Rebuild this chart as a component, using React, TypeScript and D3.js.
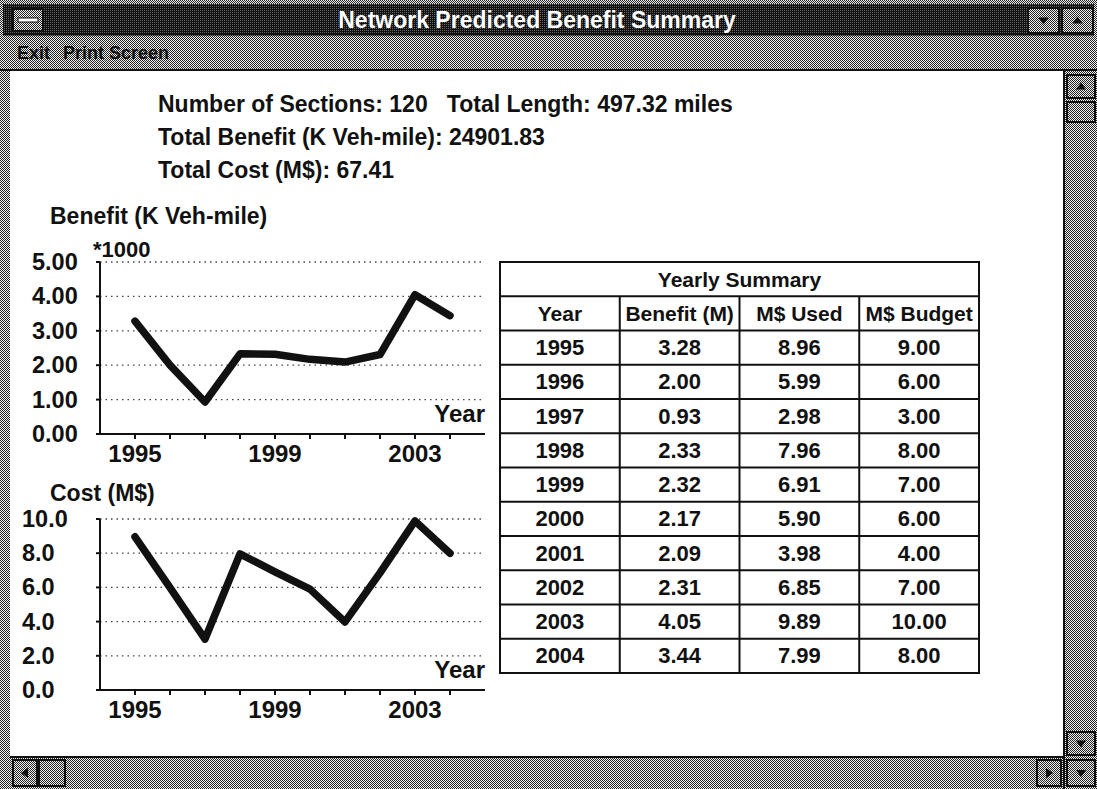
import React from "react";
import * as d3 from "d3";

// chart data
const years = [1995, 1996, 1997, 1998, 1999, 2000, 2001, 2002, 2003, 2004];
const benefitM = [3.28, 2.0, 0.93, 2.33, 2.32, 2.17, 2.09, 2.31, 4.05, 3.44];
const msUsed = [8.96, 5.99, 2.98, 7.96, 6.91, 5.9, 3.98, 6.85, 9.89, 7.99];
const msBudget = [9.0, 6.0, 3.0, 8.0, 7.0, 6.0, 4.0, 7.0, 10.0, 8.0];

const benefitTicks = [0, 1, 2, 3, 4, 5];
const costTicks = [0, 2, 4, 6, 8, 10];
const yearLabels = [1995, 1999, 2003];
const tableColumns = ["Year", "Benefit (M)", "M$ Used", "M$ Budget"];

const headerLines = [
  "Number of Sections: 120   Total Length: 497.32 miles",
  "Total Benefit (K Veh-mile): 24901.83",
  "Total Cost (M$): 67.41",
];

const W = 1097;
const H = 789;
const FONT = "'Liberation Sans', Arial, sans-serif";

interface Pt {
  year: number;
  value: number;
}

function LineChart({
  title,
  titleY,
  values,
  ticks,
  fmt,
  top,
  bottom,
  labelX,
  multiplier,
}: {
  title: string;
  titleY: number;
  values: number[];
  ticks: number[];
  fmt: (n: number) => string;
  top: number;
  bottom: number;
  labelX: number;
  multiplier?: string;
}) {
  const x = d3.scaleLinear().domain([1994, 2005]).range([100, 485]);
  const y = d3
    .scaleLinear()
    .domain([0, d3.max(ticks) as number])
    .range([bottom, top]);
  const data: Pt[] = years.map((yr, i) => ({ year: yr, value: values[i] }));
  const line = d3
    .line<Pt>()
    .x((d) => x(d.year))
    .y((d) => y(d.value));

  return (
    <g fontFamily={FONT} fontWeight="bold" fill="#111">
      <text x={50} y={titleY} fontSize={23} dominantBaseline="central">
        {title}
      </text>
      {multiplier && (
        <text x={93} y={top - 13} fontSize={22} dominantBaseline="central">
          {multiplier}
        </text>
      )}
      {/* dotted grid */}
      {ticks
        .filter((t) => t > 0)
        .map((t) => (
          <line
            key={"g" + t}
            x1={x.range()[0]}
            x2={x.range()[1]}
            y1={y(t)}
            y2={y(t)}
            stroke="#444"
            strokeWidth={1.3}
            strokeDasharray="1.5 4"
          />
        ))}
      {ticks.map((t) => (
        <g key={"y" + t}>
          <line x1={96} x2={100} y1={y(t)} y2={y(t)} stroke="#111" strokeWidth={2} />
          <text x={labelX} y={y(t)} fontSize={23.5} dominantBaseline="central">
            {fmt(t)}
          </text>
        </g>
      ))}
      {/* axes */}
      <line x1={100} x2={100} y1={y.range()[1]} y2={y.range()[0]} stroke="#111" strokeWidth={2} />
      <line x1={98} x2={485} y1={y.range()[0]} y2={y.range()[0]} stroke="#111" strokeWidth={2} />
      {years.map((yr) => (
        <line
          key={"t" + yr}
          x1={x(yr)}
          x2={x(yr)}
          y1={bottom}
          y2={bottom + 5}
          stroke="#111"
          strokeWidth={2}
        />
      ))}
      {yearLabels.map((yr) => (
        <text
          key={"l" + yr}
          x={x(yr)}
          y={bottom + 19}
          fontSize={24}
          textAnchor="middle"
          dominantBaseline="central"
        >
          {yr}
        </text>
      ))}
      <text x={485} y={bottom - 21} fontSize={24} textAnchor="end" dominantBaseline="central">
        Year
      </text>
      <path
        d={line(data) ?? ""}
        fill="none"
        stroke="#111"
        strokeWidth={7.5}
        strokeLinejoin="round"
        strokeLinecap="round"
      />
    </g>
  );
}

function SummaryTable() {
  const colX = d3.scaleLinear().domain([0, 4]).range([500, 979]);
  const rowY = d3.scaleLinear().domain([0, 12]).range([262, 673]);
  const rows = years.map((yr, i) => [
    String(yr),
    benefitM[i].toFixed(2),
    msUsed[i].toFixed(2),
    msBudget[i].toFixed(2),
  ]);
  const mid = (r: number) => (rowY(r) + rowY(r + 1)) / 2;

  return (
    <g fontFamily={FONT} fontWeight="bold" fill="#111">
      <rect x={500} y={262} width={479} height={411} fill="#fff" stroke="#111" strokeWidth={2} />
      {d3.range(1, 12).map((r) => (
        <line key={"h" + r} x1={500} x2={979} y1={rowY(r)} y2={rowY(r)} stroke="#111" strokeWidth={2} />
      ))}
      {d3.range(1, 4).map((c) => (
        <line key={"v" + c} x1={colX(c)} x2={colX(c)} y1={rowY(1)} y2={rowY(12)} stroke="#111" strokeWidth={2} />
      ))}
      <text x={(500 + 979) / 2} y={mid(0)} fontSize={21} textAnchor="middle" dominantBaseline="central">
        Yearly Summary
      </text>
      {tableColumns.map((c, i) => (
        <text
          key={c}
          x={(colX(i) + colX(i + 1)) / 2}
          y={mid(1)}
          fontSize={21}
          textAnchor="middle"
          dominantBaseline="central"
        >
          {c}
        </text>
      ))}
      {rows.map((row, r) =>
        row.map((cell, c) => (
          <text
            key={r + "-" + c}
            x={(colX(c) + colX(c + 1)) / 2}
            y={mid(r + 2)}
            fontSize={22}
            textAnchor="middle"
            dominantBaseline="central"
          >
            {cell}
          </text>
        ))
      )}
    </g>
  );
}

function ArrowBox({ x, y, w, h, dir }: { x: number; y: number; w: number; h: number; dir: string }) {
  const cx = x + w / 2;
  const cy = y + h / 2;
  const s = 5;
  let pts = "";
  if (dir === "up") pts = `${cx - s},${cy + 3} ${cx + s},${cy + 3} ${cx},${cy - 4}`;
  if (dir === "down") pts = `${cx - s},${cy - 3} ${cx + s},${cy - 3} ${cx},${cy + 4}`;
  if (dir === "left") pts = `${cx + 3},${cy - s} ${cx + 3},${cy + s} ${cx - 4},${cy}`;
  if (dir === "right") pts = `${cx - 3},${cy - s} ${cx - 3},${cy + s} ${cx + 4},${cy}`;
  return (
    <g>
      <rect x={x} y={y} width={w} height={h} fill="url(#dither)" stroke="#111" strokeWidth={2} />
      {pts && <polygon points={pts} fill="#111" />}
    </g>
  );
}

export default function App() {
  const titleBottom = 34;
  const menuBottom = 70;
  const sbLeft = 1064;
  const sbTop = 757;

  return (
    <svg
      width={W}
      height={H}
      style={{ position: "fixed", left: 0, top: 0, background: "#fff" }}
    >
      <defs>
        <pattern id="dither" width={2} height={2} patternUnits="userSpaceOnUse">
          <rect width={2} height={2} fill="#f2f2f2" />
          <rect width={1} height={1} fill="#222" />
          <rect x={1} y={1} width={1} height={1} fill="#222" />
        </pattern>
        <pattern id="darkDither" width={2} height={2} patternUnits="userSpaceOnUse">
          <rect width={2} height={2} fill="#111" />
          <rect width={1} height={1} fill="#666" />
        </pattern>
      </defs>

      {/* window frame */}
      <rect x={0} y={0} width={W} height={H} fill="url(#dither)" />
      <rect x={10} y={menuBottom} width={sbLeft - 10} height={sbTop - menuBottom} fill="#fff" />

      {/* title bar */}
      <rect x={3} y={4} width={W - 6} height={titleBottom - 4} fill="url(#darkDither)" />
      <rect x={13} y={9} width={30} height={22} fill="url(#dither)" stroke="#111" strokeWidth={2} />
      <rect x={18} y={18} width={20} height={4} fill="#fff" stroke="#111" strokeWidth={1} />
      <text
        x={537}
        y={20}
        fill="#fff"
        fontFamily={FONT}
        fontWeight="bold"
        fontSize={23}
        textAnchor="middle"
        dominantBaseline="central"
      >
        Network Predicted Benefit Summary
      </text>
      <ArrowBox x={1028} y={8} w={31} h={25} dir="down" />
      <ArrowBox x={1062} y={8} w={31} h={25} dir="up" />

      {/* menu bar */}
      <rect x={3} y={titleBottom} width={W - 6} height={1.5} fill="#111" />
      <g fontFamily={FONT} fontWeight="bold" fontSize={18} fill="#111">
        <text x={17} y={53} dominantBaseline="central">
          Exit
        </text>
        <text x={63} y={53} dominantBaseline="central">
          Print Screen
        </text>
      </g>
      <line x1={0} x2={W} y1={menuBottom} y2={menuBottom} stroke="#111" strokeWidth={2} />

      {/* scrollbars */}
      <line x1={sbLeft} x2={sbLeft} y1={menuBottom} y2={H} stroke="#111" strokeWidth={2} />
      <line x1={10} x2={sbLeft} y1={sbTop} y2={sbTop} stroke="#111" strokeWidth={2} />
      <ArrowBox x={sbLeft + 3} y={menuBottom + 5} w={28} h={23} dir="up" />
      <ArrowBox x={sbLeft + 3} y={menuBottom + 32} w={28} h={20} dir="" />
      <ArrowBox x={sbLeft + 3} y={sbTop - 25} w={28} h={23} dir="down" />
      <ArrowBox x={13} y={sbTop + 3} w={24} h={26} dir="left" />
      <ArrowBox x={39} y={sbTop + 3} w={26} h={26} dir="" />
      <ArrowBox x={sbLeft - 27} y={sbTop + 3} w={24} h={26} dir="right" />
      <ArrowBox x={sbLeft + 3} y={sbTop + 3} w={28} h={26} dir="down" />

      {/* header */}
      <g fontFamily={FONT} fontWeight="bold" fontSize={23} fill="#111">
        {headerLines.map((t, i) => (
          <text key={i} x={158} y={104 + i * 33} dominantBaseline="central" xmlSpace="preserve">
            {t}
          </text>
        ))}
      </g>

      <LineChart
        title="Benefit (K Veh-mile)"
        titleY={216}
        values={benefitM}
        ticks={benefitTicks}
        fmt={(n) => n.toFixed(2)}
        top={262}
        bottom={434}
        labelX={32}
        multiplier="*1000"
      />
      <LineChart
        title="Cost (M$)"
        titleY={493}
        values={msUsed}
        ticks={costTicks}
        fmt={(n) => n.toFixed(1)}
        top={519}
        bottom={690}
        labelX={22}
      />
      <SummaryTable />
    </svg>
  );
}
